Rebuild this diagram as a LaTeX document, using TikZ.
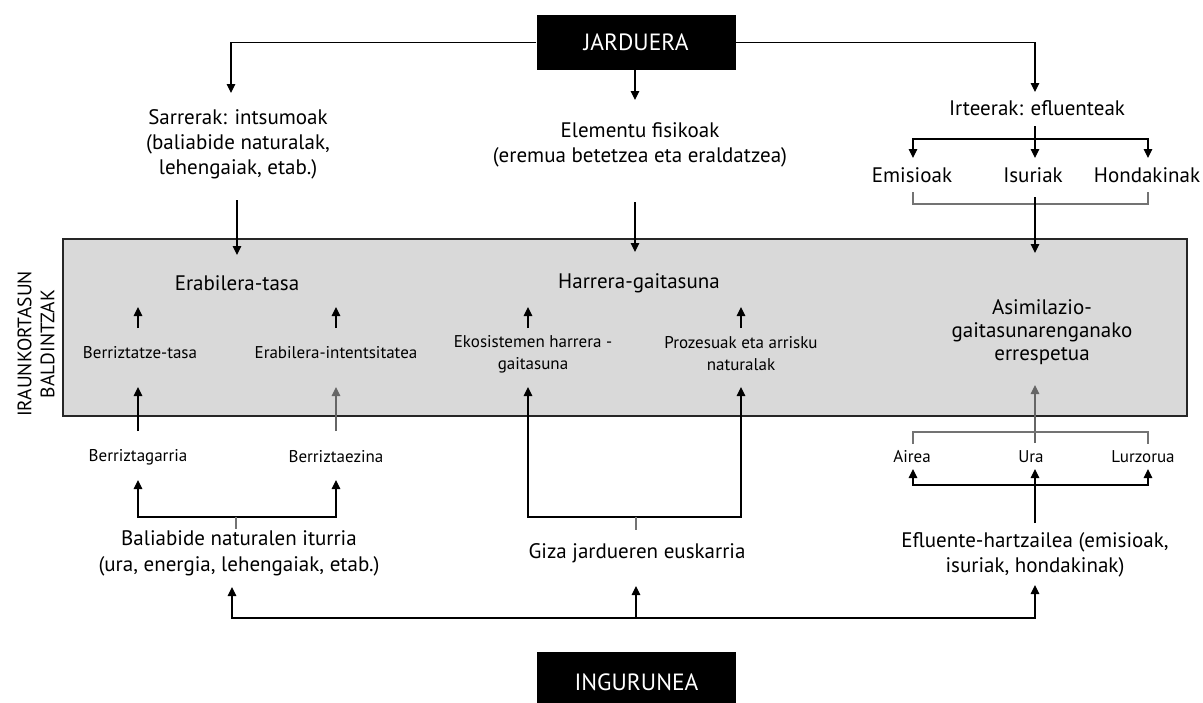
\documentclass[tikz,border=0pt]{standalone}
\usepackage{fontspec}
\setmainfont{PT Sans}
\usetikzlibrary{positioning, arrows.meta}

\tikzset{
  txt/.style={align=center, inner sep=0pt, font=\fontsize{21}{25}\selectfont},
  sml/.style={align=center, inner sep=0pt, font=\fontsize{17}{22}\selectfont},
  blackbox/.style={fill=black, text=white, minimum width=199pt, inner sep=0pt, font=\fontsize{23.5}{26}\selectfont},
  arr/.style={-{Triangle[width=8.5pt,length=9pt]}, line width=1.1pt},
  gln/.style={line width=1.1pt, draw=black!55},
}

\begin{document}
\begin{tikzpicture}[x=1pt, y=-1pt]
	\useasboundingbox (0,0) rectangle (1203,702);
	
	% --- Iraunkortasun baldintzak (panel gris) ---
	\draw[fill=black!15, draw=black!85, line width=1.2pt] (63,239) rectangle (1187,416);
	\node[txt, font=\fontsize{19.5}{23}\selectfont, rotate=90] (side) at (36,344) {IRAUNKORTASUN\\BALDINTZAK};
	
	% --- Goiko eta beheko kutxa beltzak ---
	\node[blackbox, minimum height=55pt] (jard) at (636,42.5) {JARDUERA};
	\node[blackbox, minimum height=60pt] (ingu) at (636.5,682) {INGURUNEA};
	
	% --- Jarduera: sarrerak, elementuak, irteerak ---
	\node[txt] (sarr) at (238,144) {Sarrerak: intsumoak\\(baliabide naturalak,\\lehengaiak, etab.)};
	\node[txt] (elem) at (640,145) {Elementu fisikoak\\(eremua betetzea eta eraldatzea)};
	\node[txt] (irte) at (1037,108) {Irteerak: efluenteak};
	\node[txt] (emis) at (912,175) {Emisioak};
	\node[txt] (isur) at (1033,175) {Isuriak};
	\node[txt] (hond) at (1147,175) {Hondakinak};
	
	% --- Panelaren barruan ---
	\node[txt] (erab) at (237,283) {Erabilera-tasa};
	\node[txt] (harr) at (639,283) {Harrera-gaitasuna};
	\node[txt, font=\fontsize{21}{23}\selectfont] (asim) at (1042,332) {Asimilazio-\\gaitasunarenganako\\errespetua};
	\node[sml] (berrt) at (140,353) {Berriztatze-tasa};
	\node[sml] (erint) at (336,353) {Erabilera-intentsitatea};
	\node[sml] (ekos) at (533,354) {Ekosistemen harrera -\\gaitasuna};
	\node[sml] (proz) at (741,354) {Prozesuak eta arrisku\\naturalak};
	
	% --- Ingurunea ---
	\node[sml] (berrg) at (138,457) {Berriztagarria};
	\node[sml] (berre) at (336,457) {Berriztaezina};
	\node[sml] (aire) at (912,457) {Airea};
	\node[sml] (ura) at (1031,457) {Ura};
	\node[sml] (lurz) at (1143,457) {Lurzorua};
	\node[txt, font=\fontsize{21}{26}\selectfont] (bali) at (239,553) {Baliabide naturalen iturria\\(ura, energia, lehengaiak, etab.)};
	\node[txt] (giza) at (637,553) {Giza jardueren euskarria};
	\node[txt] (eflu) at (1035,554.5) {Efluente-hartzailea (emisioak,\\isuriak, hondakinak)};
	
	% --- Puntu laguntzaileak ---
	\coordinate (sarrIn) at (231,93);
	\coordinate (elemIn) at (635,100);
	\coordinate (irteIn) at (1035,92);
	\coordinate (sarrOut) at (237,200);
	\coordinate (erabIn) at (237,255);
	\coordinate (elemOut) at (635,202);
	\coordinate (harrIn) at (635,252);
	\coordinate (irteOut) at (1035,126);
	\coordinate (irteFork) at (1035,139);
	\coordinate (emisIn) at (913,158);
	\coordinate (isurIn) at (1035,158);
	\coordinate (hondIn) at (1148,158);
	\coordinate (isurOut) at (1035,197);
	\coordinate (asimTop) at (1035,253);
	
	% --- Goiko geziak ---
	\draw[arr] (jard.west) -| (sarrIn);
	\draw[arr] (jard.east) -| (irteIn);
	\draw[arr] (jard.south -| elemIn) -- (elemIn);
	\draw[arr] (sarrOut) -- (erabIn);
	\draw[arr] (elemOut) -- (harrIn);
	\draw[arr] (irteOut) -- (isurIn);
	\draw[arr] (irteFork) -| (emisIn);
	\draw[arr] (irteFork) -| (hondIn);
	\draw[gln] (913,192) |- (1148,204) -- (1148,192);
	\draw[arr] (isurOut) -- (asimTop);
	
	% --- Panelaren barruko gezi laburrak ---
	\foreach \x in {138,336,528,741}
		\draw[arr] (\x,328) -- (\x,307);
	
	% --- Behetik panelera ---
	\draw[arr] (138,431) -- (138,387);
	\draw[arr, draw=black!60] (336,431) -- (336,387);
	\draw[arr] (636,517) -| (528,387);
	\draw[arr] (636,517) -| (741,387);
	\draw[gln] (636,517) -- (636,530);
	\draw[arr, draw=black!60] (1035,443) -- (1035,385);
	
	% --- Baliabideak: berriztagarria / berriztaezina ---
	\draw[arr] (236,517) -| (138,480);
	\draw[arr] (236,517) -| (336,480);
	\draw[gln] (236,517) -- (236,529);
	
	% --- Efluenteak: airea, ura, lurzorua ---
	\draw[gln] (913,444) |- (1148,432) -- (1148,444);
	\draw[arr] (1035,485) -| (913,469);
	\draw[arr] (1035,485) -| (1148,469);
	\draw[arr] (1035,523) -- (1035,469);
	
	% --- Ingurunetik ---
	\draw[arr] (636,618) -| (232,587);
	\draw[arr] (636,618) -| (1035,585);
	\draw[arr] (636,618) -- (636,586);
\end{tikzpicture}
\end{document}
